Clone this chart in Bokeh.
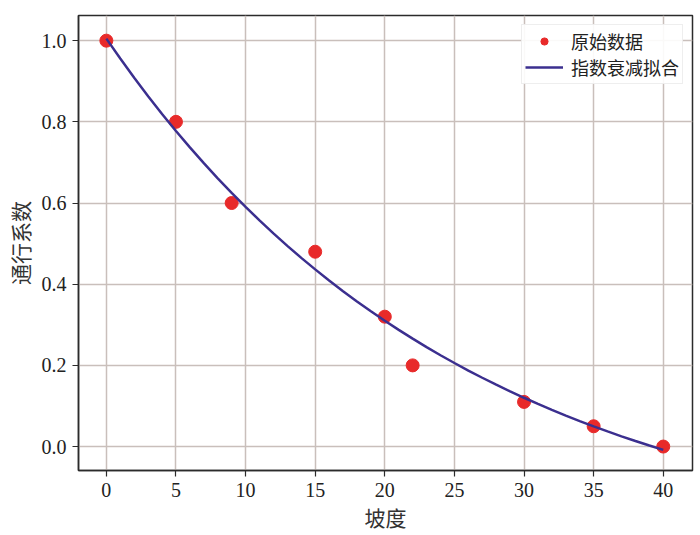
from bokeh.plotting import figure
from bokeh.models import Range1d, FixedTicker, Legend, LegendItem
from bokeh.embed import file_html
from bokeh.resources import INLINE

# data
slope = [0, 5, 9, 15, 20, 22, 30, 35, 40]
coef = [1.0, 0.8, 0.6, 0.48, 0.32, 0.2, 0.11, 0.05, 0.0]

# fitted curve at every degree
fit_x = list(range(0, 41))
fit_y = [1.0050, 0.9559, 0.9086, 0.8632, 0.8195, 0.7775, 0.7371, 0.6982, 0.6609, 0.6249,
         0.5904, 0.5572, 0.5252, 0.4945, 0.4649, 0.4365, 0.4092, 0.3829, 0.3576, 0.3333,
         0.3099, 0.2874, 0.2658, 0.2450, 0.2250, 0.2058, 0.1873, 0.1695, 0.1524, 0.1360,
         0.1202, 0.1050, 0.0904, 0.0763, 0.0628, 0.0498, 0.0373, 0.0252, 0.0137, 0.0025,
         -0.0082]

x_ticks = [0, 5, 10, 15, 20, 25, 30, 35, 40]
y_ticks = [0.0, 0.2, 0.4, 0.6, 0.8, 1.0]

p = figure(width=700, height=535, output_backend="svg", toolbar_location=None,
           x_range=Range1d(-2.0, 42.1), y_range=Range1d(-0.059, 1.062),
           min_border_left=78, min_border_top=15, min_border_right=8, min_border_bottom=65)

p.outline_line_color = "#2b2b2b"
p.outline_line_width = 1.5
p.background_fill_color = "white"
p.border_fill_color = "white"

for ax in (p.xaxis[0], p.yaxis[0]):
    ax.axis_line_color = "#2b2b2b"
    ax.axis_line_width = 1.5
    ax.major_tick_line_color = "#2b2b2b"
    ax.major_tick_line_width = 1.2
    ax.major_tick_out = 6
    ax.major_tick_in = 0
    ax.minor_tick_line_color = None
    ax.major_label_text_font = "Liberation Serif"
    ax.major_label_text_font_size = "20px"
    ax.major_label_text_color = "#222222"
    ax.axis_label_text_font = "Noto Sans CJK SC"
    ax.axis_label_text_font_size = "21px"
    ax.axis_label_text_font_style = "normal"
    ax.axis_label_text_color = "#333333"

p.xaxis.ticker = FixedTicker(ticks=x_ticks)
p.yaxis.ticker = FixedTicker(ticks=y_ticks)
p.yaxis.major_label_overrides = {v: f"{v:.1f}" for v in y_ticks}
p.xaxis.axis_label = "坡度"
p.yaxis.axis_label = "通行系数"
p.xaxis.major_label_standoff = 6
p.yaxis.major_label_standoff = 6
p.xaxis.axis_label_standoff = 2
p.yaxis.axis_label_standoff = 4

p.grid.grid_line_color = "#c9bfbb"
p.grid.grid_line_width = 1.5

pts = p.scatter(slope, coef, size=13, color="#e82a2a", line_color="#e82a2a")
ln = p.line(fit_x, fit_y, line_color="#3b2f8f", line_width=2.5)

legend = Legend(items=[LegendItem(label="原始数据", renderers=[pts]),
                       LegendItem(label="指数衰减拟合", renderers=[ln])],
                location="top_right")
legend.label_text_font = "Noto Sans CJK SC"
legend.label_text_font_size = "18px"
legend.label_text_color = "#222222"
legend.border_line_color = "#dddddd"
legend.border_line_width = 1
legend.background_fill_alpha = 0.9
legend.margin = 9
legend.padding = 3
legend.spacing = 0
legend.glyph_width = 38
legend.glyph_height = 18
legend.label_height = 18
legend.label_standoff = 8
p.add_layout(legend)

open("out.html", "w").write(file_html(p, INLINE))
